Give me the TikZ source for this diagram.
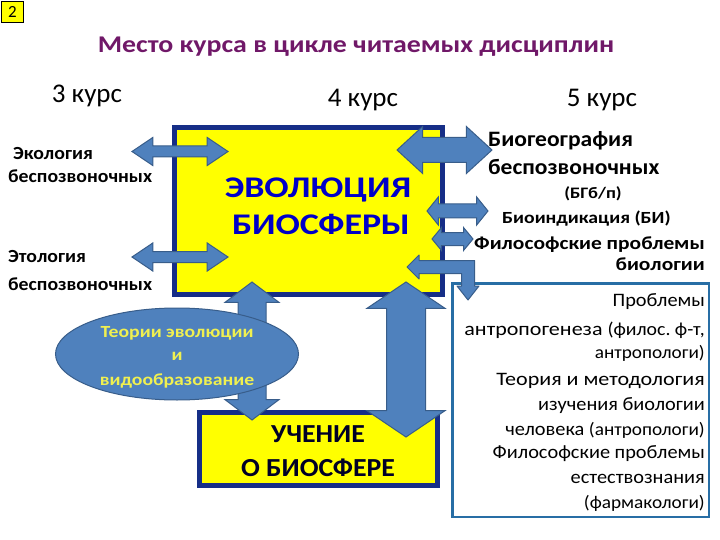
\documentclass[tikz,border=0pt]{standalone}
\usepackage{fontspec}
\setmainfont{Carlito}
\newfontfamily\wideA{Carlito}[FakeStretch=1.07]
\newfontfamily\wideB{Carlito}[FakeStretch=1.16]
\newfontfamily\wideC{Carlito}[FakeStretch=1.2]
\usepackage{xcolor}
\usepackage{tikz}
\usetikzlibrary{shapes.geometric,shapes.arrows}

\definecolor{boxyellow}{RGB}{255,255,0}
\definecolor{boxnavy}{RGB}{22,46,135}
\definecolor{arrowfill}{RGB}{79,129,189}
\definecolor{arrowline}{RGB}{56,93,138}
\definecolor{titlepurple}{RGB}{112,24,104}
\definecolor{evolblue}{RGB}{0,0,200}
\definecolor{listframe}{RGB}{40,110,165}
\definecolor{ovaltext}{RGB}{240,240,80}

\newcommand{\listsmallfont}{\fontsize{18}{18}\selectfont}

\tikzset{
  blkarrow/.style={double arrow, draw=arrowline, fill=arrowfill, line width=1pt,
    inner sep=0pt, minimum width=0pt},
  yellowbox/.style={draw=boxnavy, fill=boxyellow, line width=5pt, inner sep=0pt},
  lbl/.style={inner sep=0pt, anchor=base},
  leftlbl/.style={lbl, anchor=base west, font=\wideA\bfseries\fontsize{18.5}{18.5}\selectfont},
  listline/.style={lbl, anchor=base east, font=\wideA\fontsize{19}{19}\selectfont},
  listsmall/.style={font=\wideA\listsmallfont},
}

\begin{document}
\begin{tikzpicture}[x=1pt,y=-1pt]
  \useasboundingbox (0,0) rectangle (720,540);
  % slide number and headings
  \node[draw=black, fill=boxyellow, line width=0.8pt, minimum width=22pt,
    minimum height=21pt, inner sep=0pt, font=\fontsize{17}{17}\selectfont] (num) at (12.5,12) {2};
  \node[lbl, text=titlepurple, font=\wideB\bfseries\fontsize{24}{24}\selectfont] (title) at (356,53)
    {Место курса в цикле читаемых дисциплин};
  \node[lbl, font=\fontsize{27}{27}\selectfont] (kurs3) at (87,103) {3 курс};
  \node[lbl, font=\fontsize{27}{27}\selectfont] (kurs4) at (363,107) {4 курс};
  \node[lbl, font=\fontsize{27}{27}\selectfont] (kurs5) at (602,107) {5 курс};

  % boxes
  \node[yellowbox, minimum width=268pt, minimum height=167pt] (evolbox) at (308.5,211) {};
  \node[yellowbox, minimum width=238pt, minimum height=73pt] (uchbox) at (318.5,449) {};
  \node[draw=listframe, line width=2.5pt, fill=white, minimum width=256.5pt,
    minimum height=233.5pt, inner sep=0pt] (listbox) at (580.5,400) {};

  \node[lbl, text=evolblue, font=\wideC\bfseries\fontsize{30}{30}\selectfont] (evol1) at (318,198) {ЭВОЛЮЦИЯ};
  \node[lbl, text=evolblue, font=\wideC\bfseries\fontsize{30}{30}\selectfont] (evol2) at (321,235) {БИОСФЕРЫ};
  \node[lbl, text=black!85!blue, font=\wideA\bfseries\fontsize{26}{26}\selectfont] (uch1) at (318,442) {УЧЕНИЕ};
  \node[lbl, text=black!85!blue, font=\wideA\bfseries\fontsize{26}{26}\selectfont] (uch2) at (318,476) {О БИОСФЕРЕ};

  % left side
  \node[leftlbl] (eko1) at (13,160) {Экология};
  \node[leftlbl] (eko2) at (8,183) {беспозвоночных};
  \node[leftlbl] (eto1) at (8,262) {Этология};
  \node[leftlbl] (eto2) at (8,290) {беспозвоночных};

  % arrows
  \node[blkarrow, minimum height=96pt, inner ysep=5pt, double arrow head extend=8.5pt,
    double arrow tip angle=68] (arrL1) at (180,151.5) {};
  \node[blkarrow, minimum height=96pt, inner ysep=5pt, double arrow head extend=8.5pt,
    double arrow tip angle=68] (arrL2) at (180,257) {};
  \node[blkarrow, minimum height=95pt, inner ysep=12pt, double arrow head extend=11pt,
    double arrow tip angle=85] (arrR1) at (444.5,150) {};
  \node[blkarrow, minimum height=61pt, inner ysep=6.5pt, double arrow head extend=7pt,
    double arrow tip angle=102] (arrR2) at (457.5,211) {};
  \node[blkarrow, minimum height=41pt, inner ysep=6pt, double arrow head extend=5pt,
    double arrow tip angle=101] (arrR3) at (452.5,239) {};
  \node[blkarrow, rotate=90, minimum height=138pt, inner ysep=13.5pt, double arrow head extend=13pt,
    double arrow tip angle=106] (arrV1) at (252,351) {};
  \node[blkarrow, rotate=90, minimum height=155pt, inner ysep=19pt, double arrow head extend=19.5pt,
    double arrow tip angle=112] (arrV2) at (406,359.5) {};
  % bent arrow to the list
  \draw[draw=arrowline, fill=arrowfill, line width=1pt, line join=round]
    (407,267) -- (419,255) -- (419,260.5) -- (474.5,260.5) -- (474.5,286) -- (479,286)
    -- (468,300) -- (457,286) -- (461.5,286) -- (461.5,273.5) -- (419,273.5) -- (419,279) -- cycle;

  % oval
  \node[ellipse, draw=arrowline, fill=arrowfill, line width=1pt, minimum width=243pt,
    minimum height=92pt, inner sep=0pt] (oval) at (177,354) {};
  \node[lbl, text=ovaltext, font=\wideB\bfseries\fontsize{17}{17}\selectfont] (oval1) at (177,337) {Теории эволюции};
  \node[lbl, text=ovaltext, font=\wideB\bfseries\fontsize{17}{17}\selectfont] (oval2) at (177,360) {и};
  \node[lbl, text=ovaltext, font=\wideB\bfseries\fontsize{17}{17}\selectfont] (oval3) at (177,385) {видообразование};

  % right side, 5 course
  \node[lbl, anchor=base west, font=\wideA\bfseries\fontsize{22}{22}\selectfont] (biog1) at (488,147) {Биогеография};
  \node[lbl, anchor=base west, font=\wideA\bfseries\fontsize{22}{22}\selectfont] (biog2) at (488,175) {беспозвоночных};
  \node[lbl, font=\wideB\bfseries\fontsize{16}{16}\selectfont] (biog3) at (593,199) {(БГб/п)};
  \node[lbl, anchor=base west, font=\wideB\bfseries\fontsize{17}{17}\selectfont] (bioind) at (502,223) {Биоиндикация (БИ)};
  \node[lbl, anchor=base east, font=\wideB\bfseries\fontsize{18.5}{18.5}\selectfont] (filbio1) at (705,249) {Философские проблемы};
  \node[lbl, anchor=base east, font=\wideB\bfseries\fontsize{18.5}{18.5}\selectfont] (filbio2) at (705,270) {биологии};

  % list box lines
  \node[listline] (li1) at (705,306) {Проблемы};
  \node[listline, font=\wideB\fontsize{19}{19}\selectfont] (li2) at (705,335)
    {антропогенеза {\wideA\fontsize{18.5}{18.5}\selectfont(филос.\ ф-т,}};
  \node[listline, listsmall] (li3) at (705,358) {антропологи)};
  \node[listline, font=\wideB\fontsize{19}{19}\selectfont] (li4) at (705,385) {Теория и методология};
  \node[listline] (li5) at (705,410) {изучения биологии};
  \node[listline] (li6) at (705,435) {человека {\listsmallfont(антропологи)}};
  \node[listline] (li7) at (705,458) {Философские проблемы};
  \node[listline] (li8) at (705,483) {естествознания};
  \node[listline, listsmall] (li9) at (705,508) {(фармакологи)};
\end{tikzpicture}
\end{document}
